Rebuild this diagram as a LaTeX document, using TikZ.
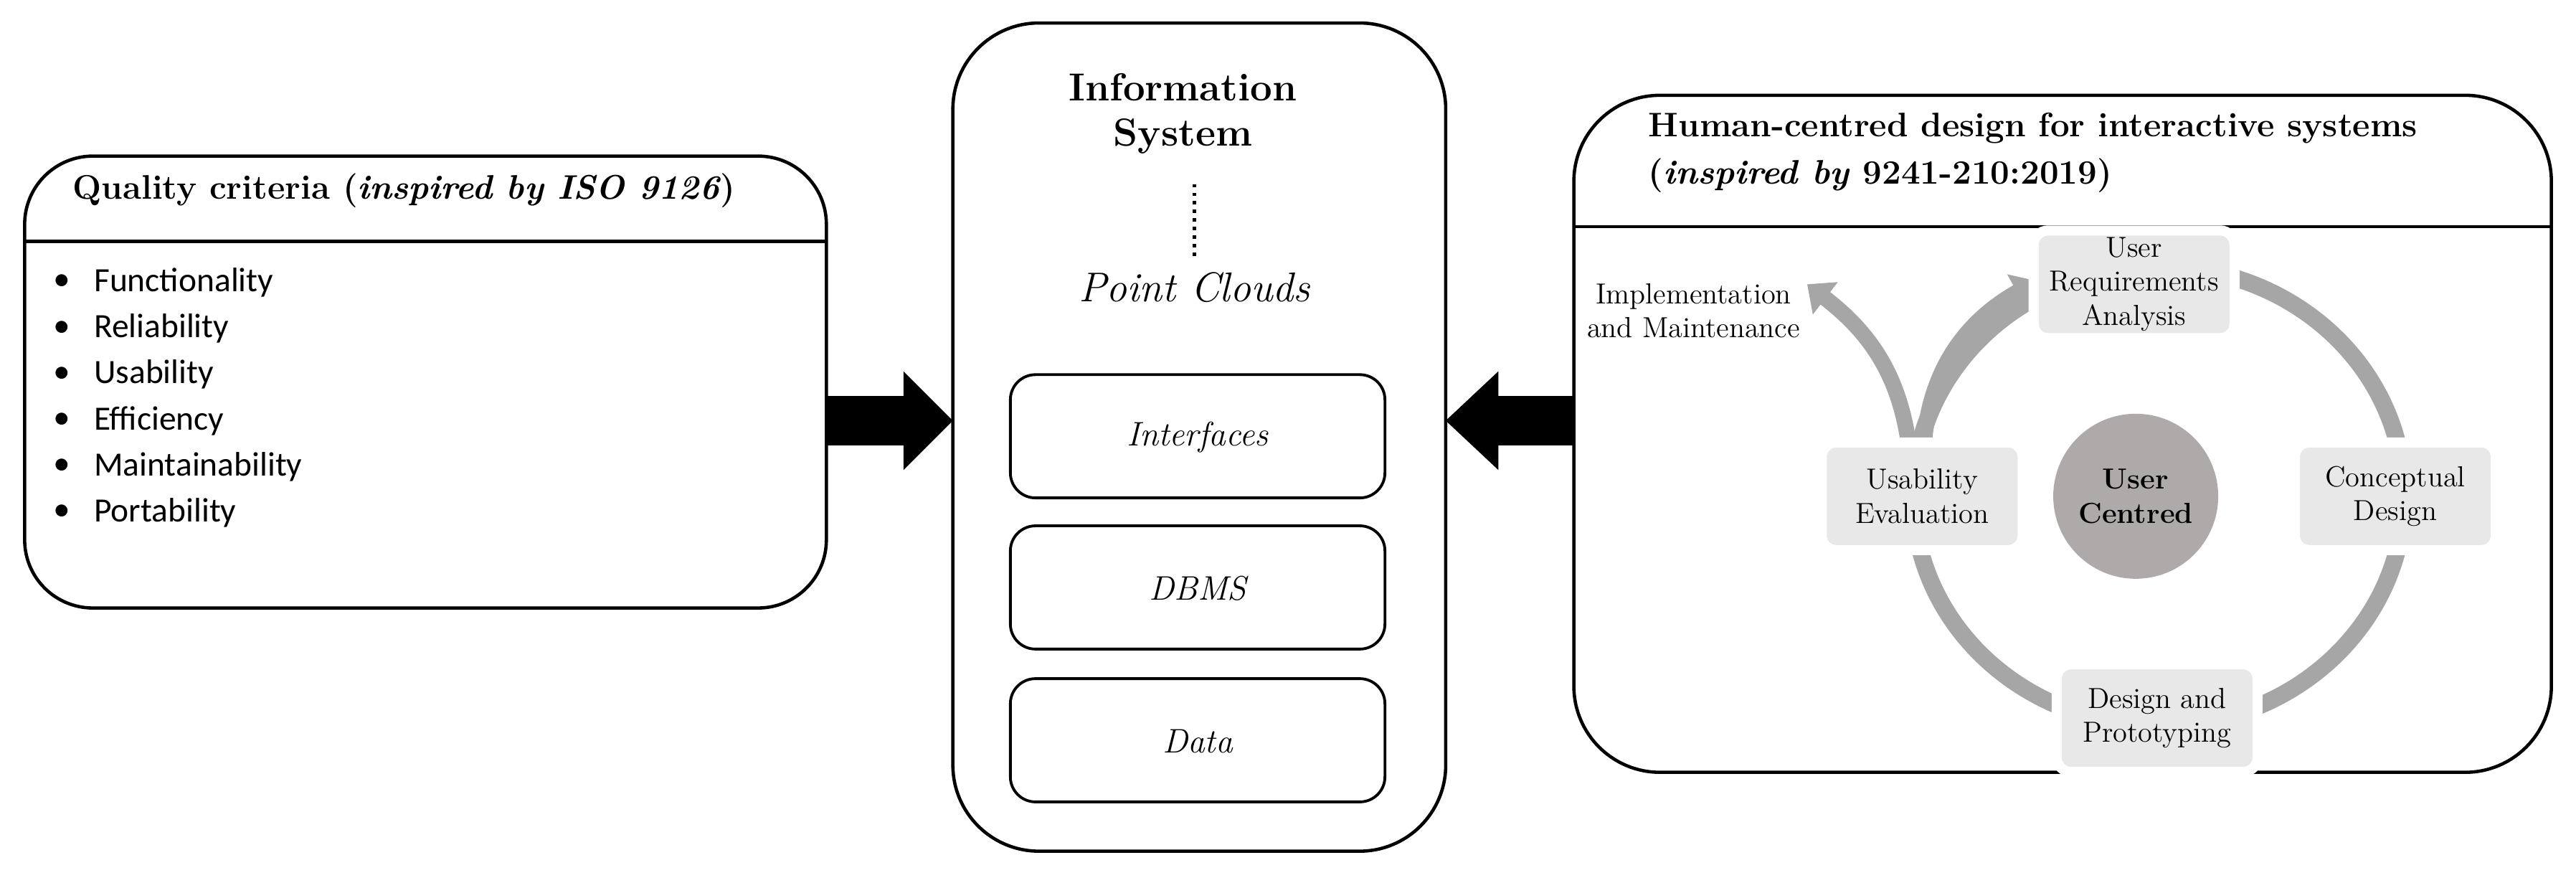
\documentclass[tikz,border=0pt]{standalone}
\usepackage{fontspec}
\newfontfamily\sansf{Carlito}
\usetikzlibrary{arrows.meta}
\definecolor{ring}{HTML}{A6A6A6}
\definecolor{boxg}{HTML}{E8E8E8}
\definecolor{cen}{HTML}{AEAAAA}
\begin{document}
\begin{tikzpicture}[x=0.02291cm,y=-0.02291cm,
  frame/.style={line width=1.3pt,rounded corners=0.95cm},
  inner/.style={line width=1.1pt,rounded corners=0.35cm},
  bul/.style={anchor=west,font=\sansf\fontsize{13.5}{15}\selectfont,inner sep=0},
  phase/.style={fill=boxg,draw=white,line width=4pt,rounded corners=0.2cm,minimum width=2.8cm,minimum height=1.5cm,align=center,font=\fontsize{11.5}{13.5}\selectfont,inner sep=1pt},
  blk/.style={fill=black}]
\useasboundingbox (0,0) rectangle (1568,537);
% left box
\draw[frame] (15,95) rectangle (503,370);
\draw[line width=1.3pt] (15,147) -- (503,147);
\node[font=\bfseries\fontsize{13.5}{16}\selectfont] (qt) at (246,116) {Quality criteria (\textit{inspired by ISO 9126})};
\foreach \t [count=\i] in {Functionality,Reliability,Usability,Efficiency,Maintainability,Portability}{
  \node[bul] (b\i) at (32,{144+28*\i}) {\textbullet};
  \node[bul] (q\i) at (57,{144+28*\i}) {\t};
}
% arrows
\fill[blk] (503,241) -- (550,241) -- (550,226) -- (580,256) -- (550,286) -- (550,271) -- (503,271) -- cycle;
\fill[blk] (958,241) -- (912,241) -- (912,226) -- (880,256) -- (912,286) -- (912,271) -- (958,271) -- cycle;
% middle
\draw[frame,rounded corners=1.2cm] (580,14) rectangle (880,518);
\node[font=\bfseries\fontsize{15.5}{18}\selectfont,align=center] (is) at (720,69) {Information\\System};
\coordinate (d1) at (727,112); \coordinate (d2) at (727,158);
\draw[line width=1.4pt,dotted] (d1) -- (d2);
\node[font=\itshape\fontsize{16.5}{19}\selectfont] (pc) at (727,175) {Point Clouds};
\draw[inner] (615,228) rectangle (843,303);
\node[font=\itshape\fontsize{13.5}{16}\selectfont] (i1) at (729,266) {Interfaces};
\draw[inner] (615,320) rectangle (843,395);
\node[font=\itshape\fontsize{13.5}{16}\selectfont] (i2) at (729,358) {DBMS};
\draw[inner] (615,413) rectangle (843,488);
\node[font=\itshape\fontsize{13.5}{16}\selectfont] (i3) at (729,451) {Data};
% right box
\draw[frame,rounded corners=1.2cm] (958,58) rectangle (1553,470);
\draw[line width=1.3pt] (958,138) -- (1553,138);
\node[font=\bfseries\fontsize{13.5}{16}\selectfont,anchor=west] (h1) at (998,78) {Human-centred design for interactive systems};
\node[font=\bfseries\fontsize{13.5}{16}\selectfont,anchor=west] (h2) at (998,107) {(\textit{inspired by} 9241-210:2019)};
% cycle
\draw[ring,line width=0.24cm] (1314,302) ellipse [x radius=3.42cm, y radius=3.2cm];
\coordinate (s1) at (1162,272); \coordinate (t1) at (1100,173);
\coordinate (s2) at (1171,272); \coordinate (t2) at (1240,171);
\draw[ring,line width=0.22cm,-{Triangle[width=0.55cm,length=0.32cm]}] (s1) .. controls (1156,225) and (1135,200) .. (t1);
\draw[ring,line width=0.22cm,-{Triangle[width=0.55cm,length=0.32cm]}] (s2) .. controls (1174,225) and (1197,195) .. (t2);
\node[phase] (ura) at (1299,173) {User\\Requirements\\Analysis};
\node[phase] (cd) at (1458,302) {Conceptual\\Design};
\node[phase] (dp) at (1313,437) {Design and\\Prototyping};
\node[phase] (ue) at (1170,302) {Usability\\Evaluation};
\node[circle,fill=cen,minimum size=2.3cm,align=center,font=\bfseries\fontsize{11.5}{13.5}\selectfont] (uc) at (1300,302) {User\\Centred};
\node[anchor=east,align=center,font=\fontsize{11.5}{13.5}\selectfont,inner sep=0] (im) at (1096,189) {Implementation\\and Maintenance};
\end{tikzpicture}
\end{document}
